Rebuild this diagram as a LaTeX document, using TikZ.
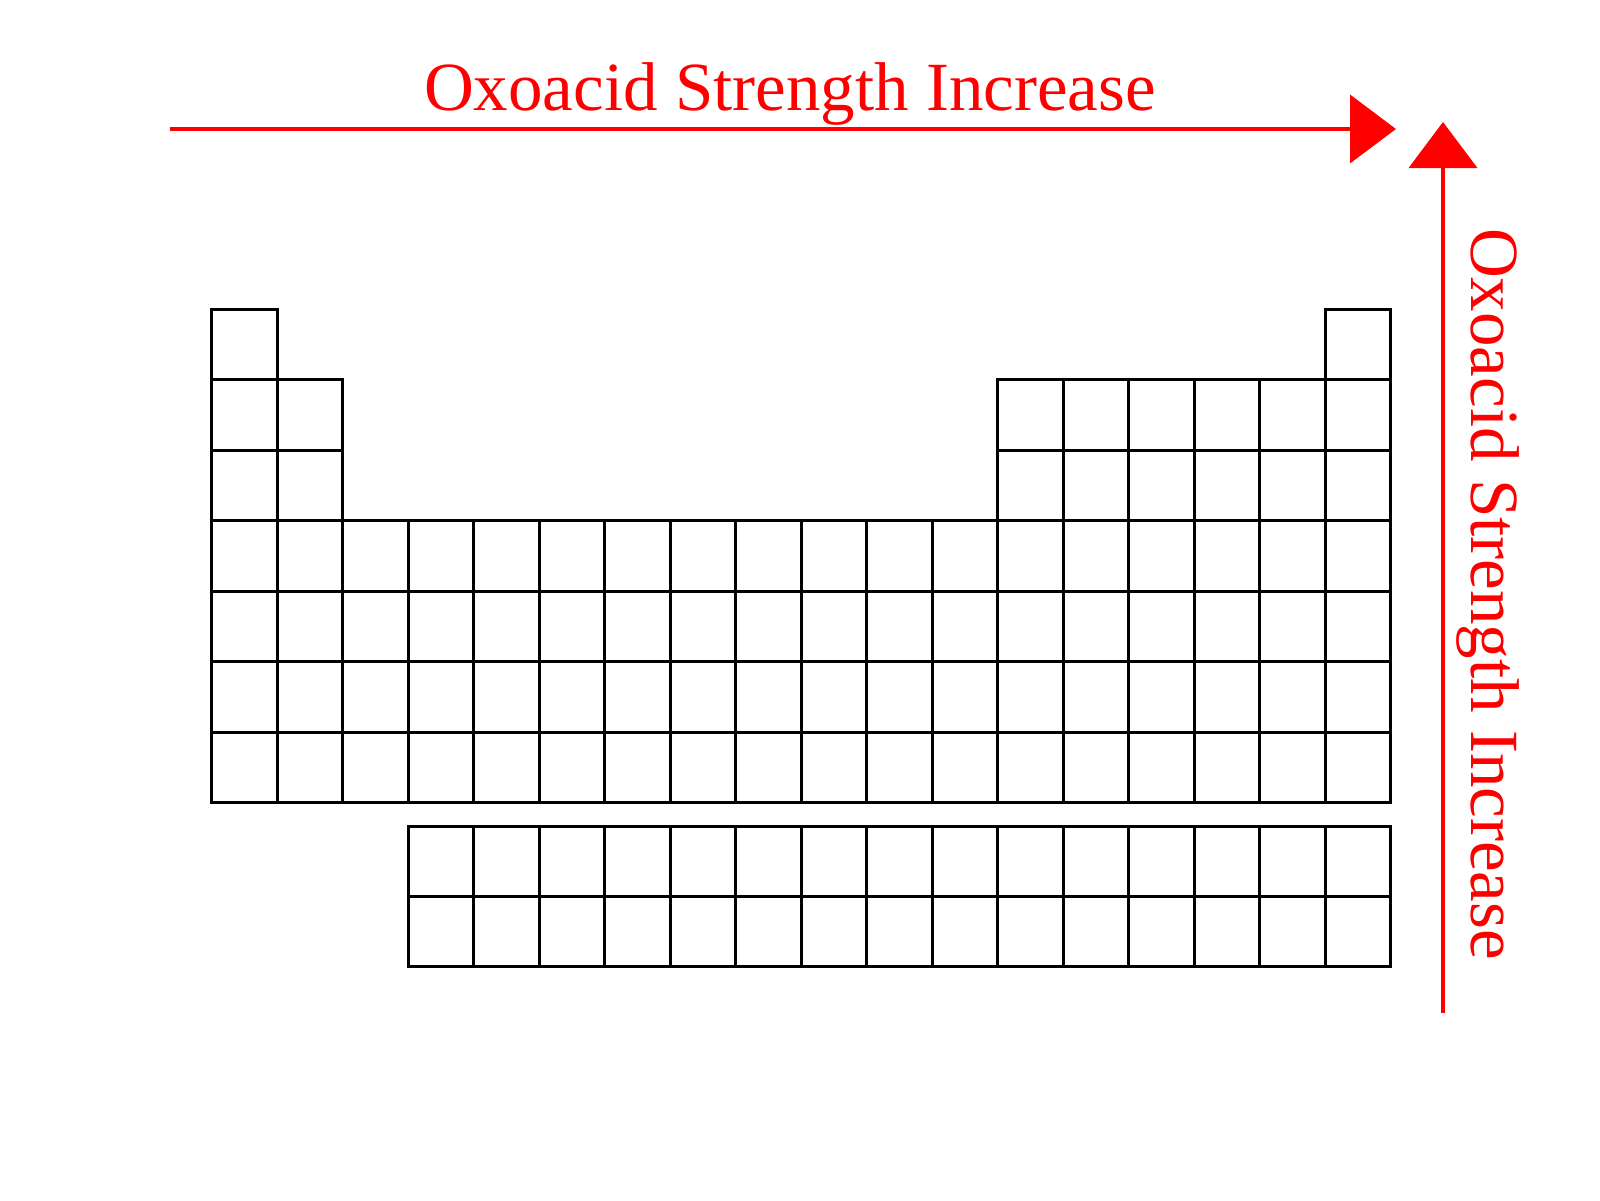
\documentclass[tikz,border=0pt]{standalone}
\usepackage{fontspec}
\setmainfont{Liberation Serif}
\usetikzlibrary{arrows.meta}
\begin{document}
\begin{tikzpicture}[x=1pt,y=-1pt,
  cell/.style={draw=black,line width=3pt},
  redarrow/.style={draw=red,line width=4pt,-{Triangle[length=46pt,width=68pt]}},
  label/.style={text=red,inner sep=0pt,anchor=base,font=\fontsize{69}{80}\selectfont}]
\useasboundingbox (0,0) rectangle (1600,1200);
\fill[white] (0,0) rectangle (1600,1200);
\def\cw{65.5}\def\rh{70.43}
% main table
\foreach \r/\cols in {1/{1,18},2/{1,2,13,14,15,16,17,18},3/{1,2,13,14,15,16,17,18},
  4/{1,...,18},5/{1,...,18},6/{1,...,18},7/{1,...,18}}{
  \foreach \c in \cols {
    \pgfmathsetmacro\xa{round(211+(\c-1)*\cw)}
    \pgfmathsetmacro\xb{round(211+\c*\cw)}
    \pgfmathsetmacro\ya{round(309+(\r-1)*\rh)}
    \pgfmathsetmacro\yb{round(309+\r*\rh)}
    \draw[cell] (\xa,\ya) rectangle (\xb,\yb);
  }
}
% f-block rows
\foreach \r in {1,2}{
  \foreach \c in {4,...,18}{
    \pgfmathsetmacro\xa{round(211+(\c-1)*\cw)}
    \pgfmathsetmacro\xb{round(211+\c*\cw)}
    \draw[cell] (\xa,{826+(\r-1)*70}) rectangle (\xb,{826+\r*70});
  }
}
% arrows
\coordinate (hs) at (170,129);
\coordinate (he) at (1396,129);
\coordinate (vs) at (1443,1013);
\coordinate (ve) at (1443,122);
\draw[redarrow] (hs) -- (he);
\draw[redarrow] (vs) -- (ve);
\node[label] (ht) at (790,110) {Oxoacid Strength Increase};
\node[label,rotate=-90] (vt) at (1471,594) {Oxoacid Strength Increase};
\end{tikzpicture}
\end{document}
